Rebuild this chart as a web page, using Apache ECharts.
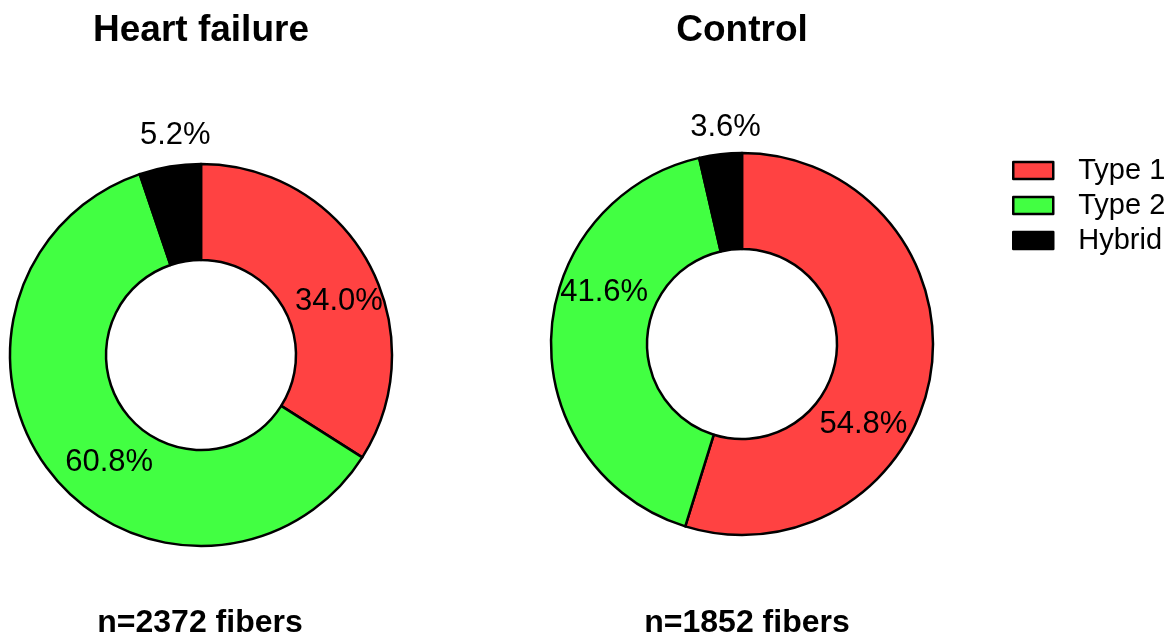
<!DOCTYPE html>
<html>
<head>
<meta charset="utf-8">
<script src="https://cdn.jsdelivr.net/npm/echarts@6/dist/echarts.min.js"></script>
<style>
  html, body { margin: 0; padding: 0; background: #fff; }
  #chart { width: 1175px; height: 636px; }
</style>
</head>
<body>
<div id="chart"></div>
<script>
const categories = ['Type 1', 'Type 2', 'Hybrid'];
const panelTitles = ['Heart failure', 'Control'];
const panelCounts = ['n=2372 fibers', 'n=1852 fibers'];
const heartFailureValues = [34.0, 60.8, 5.2];
const controlValues = [54.8, 41.6, 3.6];
const colors = ['#ff4242', '#42ff42', '#000000'];

const FONT = '"Liberation Sans", Arial, sans-serif';

// label nudges relative to the default "inside" spot (per slice)
const nudgeHF = [[10, 17], [23, 17], [-2, -75]];
const nudgeCtrl = [[-23, 59], [8, -46], [0, -71]];

function pieSeries(values, center, nudge) {
  return {
    type: 'pie',
    center: center,
    radius: [95, 191],
    startAngle: 90,
    clockwise: true,
    animation: false,
    silent: true,
    avoidLabelOverlap: false,
    itemStyle: { borderColor: '#000', borderWidth: 2.5 },
    label: {
      show: true,
      position: 'inside',
      color: '#000',
      fontSize: 31,
      fontFamily: FONT,
      formatter: p => p.value.toFixed(1) + '%'
    },
    labelLine: { show: false },
    labelLayout: function (params) {
      const n = nudge[params.dataIndex];
      return { dx: n[0], dy: n[1] };
    },
    emphasis: { disabled: true },
    data: categories.map((c, i) => ({ name: c, value: values[i], itemStyle: { color: colors[i] } }))
  };
}

const chart = echarts.init(document.getElementById('chart'), null, { renderer: 'canvas' });
chart.setOption({
  backgroundColor: '#fff',
  animation: false,
  title: [
    { text: panelTitles[0], left: 201, top: 12, textAlign: 'center', padding: 0,
      textStyle: { fontSize: 37, fontWeight: 'bold', fontFamily: FONT, color: '#000' } },
    { text: panelTitles[1], left: 742, top: 12, textAlign: 'center', padding: 0,
      textStyle: { fontSize: 37, fontWeight: 'bold', fontFamily: FONT, color: '#000' } },
    { text: panelCounts[0], left: 200, top: 607, textAlign: 'center', padding: 0,
      textStyle: { fontSize: 32, fontWeight: 'bold', fontFamily: FONT, color: '#000' } },
    { text: panelCounts[1], left: 747, top: 607, textAlign: 'center', padding: 0,
      textStyle: { fontSize: 32, fontWeight: 'bold', fontFamily: FONT, color: '#000' } }
  ],
  legend: {
    orient: 'vertical',
    left: 1012,
    top: 156,
    padding: 0,
    itemWidth: 40,
    itemHeight: 17,
    itemGap: 6,
    icon: 'rect',
    selectedMode: false,
    data: categories,
    itemStyle: { borderColor: '#000', borderWidth: 2.5 },
    textStyle: { fontSize: 29, fontFamily: FONT, color: '#000', padding: [0, 0, 0, 20] }
  },
  series: [
    pieSeries(heartFailureValues, [201, 355], nudgeHF),
    pieSeries(controlValues, [742, 344], nudgeCtrl)
  ]
});
</script>
</body>
</html>
